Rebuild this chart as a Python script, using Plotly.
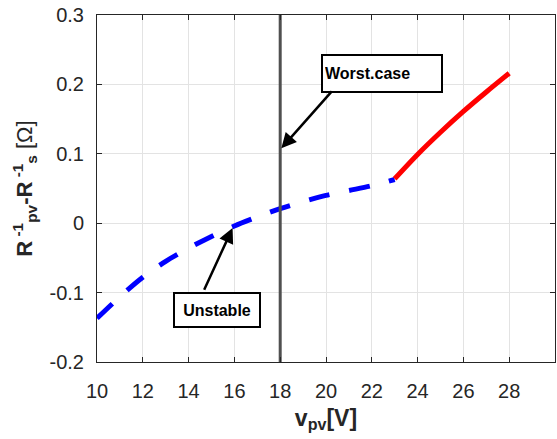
import plotly.graph_objects as go

# Conductance margin vs. PV voltage
v_unstable = [10, 11, 12, 13, 14, 15, 16, 17, 18, 19, 20, 21, 22, 23]
g_unstable = [-0.137, -0.106, -0.078, -0.055, -0.036, -0.019, -0.004,
              0.009, 0.021, 0.031, 0.040, 0.047, 0.054, 0.063]
v_stable = [23, 24, 25, 26, 27, 28]
g_stable = [0.064, 0.099, 0.131, 0.161, 0.189, 0.216]

v_worst = 18
x_ticks = [10, 12, 14, 16, 18, 20, 22, 24, 26, 28]
y_ticks = [-0.2, -0.1, 0, 0.1, 0.2, 0.3]
y_tick_text = ["-0.2", "-0.1", "0", "0.1", "0.2", "0.3"]

fig = go.Figure()
fig.add_trace(go.Scatter(x=v_unstable, y=g_unstable, mode="lines",
                         line=dict(color="#0000ff", width=5, dash="21px,20px",
                                   shape="spline", smoothing=0.8),
                         showlegend=False))
fig.add_trace(go.Scatter(x=v_stable, y=g_stable, mode="lines",
                         line=dict(color="#ff0000", width=5,
                                   shape="spline", smoothing=0.8),
                         showlegend=False))
fig.add_trace(go.Scatter(x=[v_worst, v_worst], y=[-0.2, 0.3], mode="lines",
                         line=dict(color="#505050", width=3),
                         showlegend=False))

# Text boxes
fig.add_annotation(x=22.46, y=0.216, xref="x", yref="y", text="<b>Worst.case</b>",
                   showarrow=False, font=dict(size=16, color="black"),
                   bgcolor="white", bordercolor="black", borderwidth=2,
                   width=114, height=31, borderpad=2, align="left")
fig.add_annotation(x=15.24, y=-0.125, xref="x", yref="y", text="<b>Unstable</b>",
                   showarrow=False, font=dict(size=16, color="black"),
                   bgcolor="white", bordercolor="black", borderwidth=2,
                   width=80, height=28, borderpad=2)

# Arrows
fig.add_annotation(x=18.05, y=0.108, ax=20.31, ay=0.192, xref="x", yref="y",
                   axref="x", ayref="y", text="", showarrow=True,
                   arrowhead=2, arrowsize=1.2, arrowwidth=2.5, arrowcolor="black")
fig.add_annotation(x=15.92, y=-0.007, ax=14.65, ay=-0.098, xref="x", yref="y",
                   axref="x", ayref="y", text="", showarrow=True,
                   arrowhead=2, arrowsize=1.2, arrowwidth=2.5, arrowcolor="black")

axis_common = dict(showgrid=True, gridcolor="#e3e3e3", gridwidth=1,
                   showline=True, linecolor="#262626", linewidth=1,
                   mirror="allticks", ticks="inside", ticklen=5,
                   tickcolor="#262626", zeroline=False,
                   tickfont=dict(size=20, color="#262626"))

fig.update_xaxes(range=[10, 30], tickvals=x_ticks, ticklabelstandoff=11,
                 title=dict(text="<b>v<sub>pv</sub>[V]</b>", font=dict(size=23, color="#262626"),
                            standoff=8),
                 **axis_common)
fig.update_yaxes(range=[-0.2, 0.3], tickvals=y_ticks, ticktext=y_tick_text,
                 ticklabelstandoff=8,
                 title=dict(text="<b>R<sup> -1</sup><sub>pv</sub>-R<sup> -1</sup><sub>s</sub></b> [Ω]",
                            font=dict(size=22, color="#262626"), standoff=10),
                 **axis_common)

fig.update_layout(width=557, height=439,
                  margin=dict(l=97, r=2, t=15, b=77),
                  paper_bgcolor="white", plot_bgcolor="white",
                  font=dict(family="Liberation Sans, Arial, sans-serif"))

fig.write_html("out.html")
